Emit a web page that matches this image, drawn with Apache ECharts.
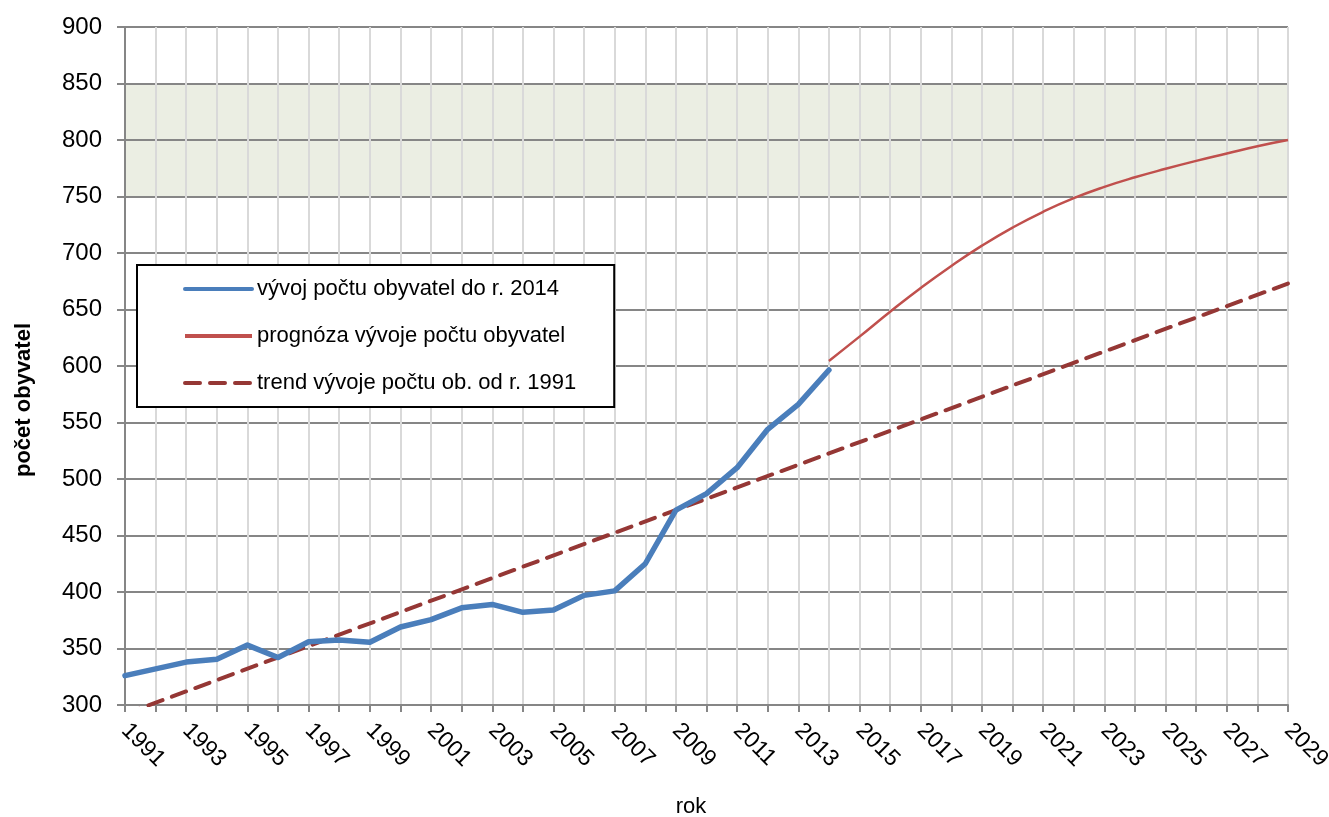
<!DOCTYPE html>
<html>
<head>
<meta charset="utf-8">
<script src="https://cdn.jsdelivr.net/npm/echarts@6/dist/echarts.min.js"></script>
<style>
  html, body { margin: 0; padding: 0; background: #fff; }
  #chart { width: 1329px; height: 817px; }
</style>
</head>
<body>
<div id="chart"></div>
<script>
// skutečný vývoj
var pastYears = [1991, 1992, 1993, 1994, 1995, 1996, 1997, 1998, 1999, 2000, 2001, 2002,
                 2003, 2004, 2005, 2006, 2007, 2008, 2009, 2010, 2011, 2012, 2013, 2014];
var pastPop = [326, 332, 338, 340.5, 353, 342, 356, 357.5, 355.5, 369, 375.5, 386,
               389, 382, 384, 397, 401, 425, 472.5, 487, 510, 544, 566, 596.5];

// prognóza
var forecastYears = [2014, 2015, 2016, 2017, 2018, 2019, 2020, 2021,
                     2022, 2023, 2024, 2025, 2026, 2027, 2028, 2029];
var forecastPop = [604.5, 626, 648, 669, 688.5, 706.5, 722.5, 736.5,
                   748.5, 758.5, 767, 774.5, 781.5, 788, 794.5, 800];

// lineární trend
var trendYears = [1991, 2029];
var trendPop = [292, 673];

// zvýrazněné pásmo
var bandFrom = 750;
var bandTo = 850;

var seriesNames = ['vývoj počtu obyvatel do r. 2014', 'prognóza vývoje počtu obyvatel', 'trend vývoje počtu ob. od r. 1991'];

function pairs(xs, ys) {
  return xs.map(function(x, i) { return [x, ys[i]]; });
}

var narrow = "'Liberation Sans Narrow', 'Liberation Sans', Arial, sans-serif";
var regular = "'Liberation Sans', Arial, sans-serif";

var chart = echarts.init(document.getElementById('chart'));

var option = {
  animation: false,
  grid: { left: 125, right: 41, top: 27, bottom: 112, outerBoundsMode: 'none', containLabel: false },
  xAxis: {
    type: 'value',
    min: 1991,
    max: 2029,
    interval: 1,
    z: 1.5,
    axisLine: { lineStyle: { color: '#868686', width: 2 } },
    axisTick: { show: true, length: 7, lineStyle: { color: '#868686', width: 2 } },
    axisLabel: {
      rotate: -45,
      margin: 22,
      fontSize: 23,
      fontFamily: narrow,
      color: '#000',
      formatter: function(v) { return v % 2 === 1 ? String(v) : ''; }
    },
    splitLine: { show: true, lineStyle: { color: '#d9d9d9', width: 2 } }
  },
  yAxis: {
    type: 'value',
    min: 300,
    max: 900,
    interval: 50,
    z: 1.5,
    axisLine: { show: true, lineStyle: { color: '#868686', width: 2 } },
    axisTick: { show: true, length: 8, lineStyle: { color: '#868686', width: 2 } },
    axisLabel: { margin: 23, fontSize: 24, fontFamily: narrow, color: '#000' },
    splitLine: { show: true, lineStyle: { color: '#868686', width: 2 } }
  },
  legend: {
    orient: 'vertical',
    left: 137,
    top: 265,
    padding: [11, 38, 11, 46],
    itemWidth: 67,
    itemHeight: 26,
    itemGap: 21,
    selectedMode: false,
    backgroundColor: '#fff',
    borderColor: '#000',
    borderWidth: 2,
    itemStyle: { opacity: 0 },
    textStyle: { fontSize: 22, fontFamily: regular, color: '#000', lineHeight: 26 },
    data: [
      { name: seriesNames[0], lineStyle: { width: 4 } },
      { name: seriesNames[1], lineStyle: { width: 4 } },
      { name: seriesNames[2], lineStyle: { width: 4 } }
    ]
  },
  graphic: [
    {
      type: 'text', x: 24, y: 400, rotation: Math.PI / 2,
      style: { text: 'počet obyvatel', fontSize: 22, fontWeight: 'bold', fontFamily: regular,
               fill: '#000', textAlign: 'center', textVerticalAlign: 'middle' }
    },
    {
      type: 'text', x: 691, y: 807,
      style: { text: 'rok', fontSize: 22, fontFamily: regular,
               fill: '#000', textAlign: 'center', textVerticalAlign: 'middle' }
    }
  ],
  series: [
    {
      name: seriesNames[0],
      type: 'line',
      data: pairs(pastYears, pastPop),
      symbol: 'none',
      z: 4,
      itemStyle: { color: '#4A7EBB' },
      lineStyle: { color: '#4A7EBB', width: 5.5, cap: 'round', join: 'round' },
      markArea: {
        silent: true,
        itemStyle: { color: '#EBEEE3' },
        data: [[{ yAxis: bandFrom }, { yAxis: bandTo }]]
      }
    },
    {
      name: seriesNames[1],
      type: 'line',
      data: pairs(forecastYears, forecastPop),
      symbol: 'none',
      smooth: 0.5,
      z: 3,
      itemStyle: { color: '#C0504D' },
      lineStyle: { color: '#C0504D', width: 2.5 }
    },
    {
      name: seriesNames[2],
      type: 'line',
      data: pairs(trendYears, trendPop),
      symbol: 'none',
      z: 2,
      itemStyle: { color: '#953735' },
      lineStyle: { color: '#953735', width: 4, type: [15, 10], cap: 'round' }
    }
  ]
};

chart.setOption(option);
</script>
</body>
</html>
